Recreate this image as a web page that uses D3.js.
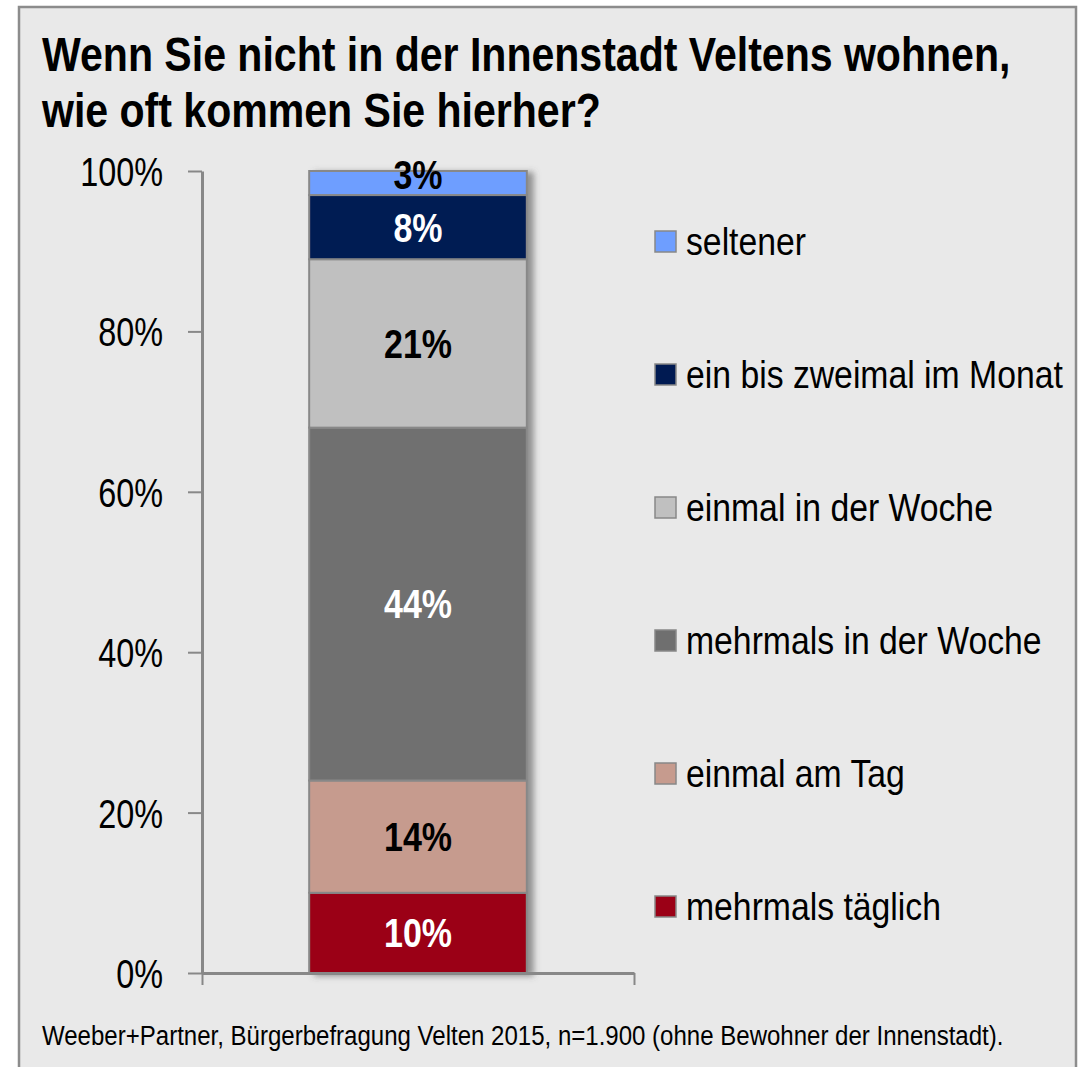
<!DOCTYPE html>
<html>
<head>
<meta charset="utf-8">
<script src="https://cdn.jsdelivr.net/npm/d3@7"></script>
<style>
  body { margin: 0; background: #fff; }
  text { font-family: "Liberation Sans Narrow", "Arial Narrow", "Liberation Sans", Arial, sans-serif; }
</style>
</head>
<body>
<div id="chart"></div>
<script>
// categories bottom -> top, as stacked in the bar
const categories = ["mehrmals täglich", "einmal am Tag", "mehrmals in der Woche",
  "einmal in der Woche", "ein bis zweimal im Monat", "seltener"]
const shares = [10, 14, 44, 21, 8, 3]
const colors = ["#9b0016", "#c69b8e", "#6f6f6f", "#c0c0c0", "#001a52", "#6e9eff"]
const labelColors = ["#fff", "#000", "#fff", "#000", "#fff", "#000"]
const yTicks = [0, 20, 40, 60, 80, 100]

const W = 1079, H = 1067

// no narrow font installed -> squeeze the text horizontally
function narrow(sel, k) {
  sel.each(function() {
    const w = this.getComputedTextLength()
    d3.select(this)
      .attr("textLength", w * k)
      .attr("lengthAdjust", "spacingAndGlyphs")
  })
}

const svg = d3.select("#chart")
  .append("svg")
    .attr("width", W)
    .attr("height", H)

// drop shadow for the bar
const defs = svg.append("defs")
defs.append("filter")
    .attr("id", "shadow")
    .attr("x", "-10%").attr("width", "130%")
  .append("feDropShadow")
    .attr("dx", 6).attr("dy", 2)
    .attr("stdDeviation", 3)
    .attr("flood-color", "#555")
    .attr("flood-opacity", 0.6)

// panel
svg.append("rect")
    .attr("x", 19).attr("y", 7)
    .attr("width", 1057).attr("height", 1080)
    .attr("fill", "#e9e9e9")
    .attr("stroke", "#8c8c8c")
    .attr("stroke-width", 2.5)

// title
const titleLines = ["Wenn Sie nicht in der Innenstadt Veltens wohnen,", "wie oft kommen Sie hierher?"]
svg.selectAll(".title")
  .data(titleLines)
  .enter()
  .append("text")
    .attr("class", "title")
    .attr("x", 42)
    .attr("y", (d, i) => 71 + i * 56)
    .attr("font-size", 48)
    .attr("font-weight", "bold")
    .attr("fill", "#000")
    .text(d => d)
    .call(narrow, 0.855)

// scales
const y = d3.scaleLinear().domain([0, 100]).range([973, 171])
const x = d3.scaleBand().domain(["all"]).range([202, 634]).padding(0.33)

// stacked data
let acc = 0
const stacked = shares.map((v, i) => {
  const d = { cat: categories[i], v: v, y0: acc, y1: acc + v, color: colors[i], lc: labelColors[i] }
  acc += v
  return d
})

// bar segments
const bar = svg.append("g").attr("filter", "url(#shadow)")
bar.selectAll("rect")
  .data(stacked)
  .enter()
  .append("rect")
    .attr("x", x("all"))
    .attr("width", x.bandwidth())
    .attr("y", d => y(d.y1))
    .attr("height", d => y(d.y0) - y(d.y1))
    .attr("fill", d => d.color)
    .attr("stroke", "#888")
    .attr("stroke-width", 2)

// y axis
const yAxis = svg.append("g")
    .attr("transform", "translate(202,0)")
    .call(d3.axisLeft(y).tickValues(yTicks).tickSize(14).tickSizeOuter(0).tickFormat(d => d + "%"))
yAxis.select(".domain").attr("stroke", "#888").attr("stroke-width", 3)
yAxis.selectAll(".tick line").attr("stroke", "#888").attr("stroke-width", 2)
yAxis.selectAll(".tick text")
    .attr("x", -39)
    .attr("dy", "0.36em")
    .attr("font-size", 40)
    .attr("fill", "#000")
    .attr("font-family", null)
    .call(narrow, 0.81)

// x axis baseline
const xLin = d3.scaleLinear().domain([0, 1]).range([202, 634])
const xAxis = svg.append("g")
    .attr("transform", "translate(0,973)")
    .call(d3.axisBottom(xLin).tickValues([0, 1]).tickSize(12).tickSizeOuter(0).tickFormat(""))
xAxis.select(".domain").attr("stroke", "#888").attr("stroke-width", 3)
xAxis.selectAll(".tick line").attr("stroke", "#888").attr("stroke-width", 2)

// value labels
svg.selectAll(".val")
  .data(stacked)
  .enter()
  .append("text")
    .attr("class", "val")
    .attr("x", x("all") + x.bandwidth() / 2)
    .attr("y", d => d.v < 5 ? y(d.y1) + 4 : y((d.y0 + d.y1) / 2))
    .attr("dy", "0.36em")
    .attr("text-anchor", "middle")
    .attr("font-size", 40)
    .attr("font-weight", "bold")
    .attr("fill", d => d.lc)
    .text(d => d.v + "%")
    .call(narrow, 0.85)

// legend, top -> bottom
const legendY = d3.scalePoint()
    .domain(categories.slice().reverse())
    .range([241, 906])
const legend = svg.selectAll(".leg")
  .data(stacked)
  .enter()
  .append("g")
    .attr("class", "leg")
    .attr("transform", d => `translate(655,${legendY(d.cat)})`)
legend.append("rect")
    .attr("x", 0).attr("y", -10)
    .attr("width", 21).attr("height", 21)
    .attr("fill", d => d.color)
    .attr("stroke", "#888")
    .attr("stroke-width", 1.5)
legend.append("text")
    .attr("x", 31)
    .attr("dy", "0.36em")
    .attr("font-size", 39)
    .attr("fill", "#000")
    .text(d => d.cat)
    .call(narrow, 0.865)

// source note
svg.append("text")
    .attr("x", 42).attr("y", 1045)
    .attr("font-size", 27)
    .attr("fill", "#000")
    .text("Weeber+Partner,  Bürgerbefragung Velten 2015, n=1.900 (ohne Bewohner der Innenstadt).")
    .call(narrow, 0.89)
</script>
</body>
</html>
